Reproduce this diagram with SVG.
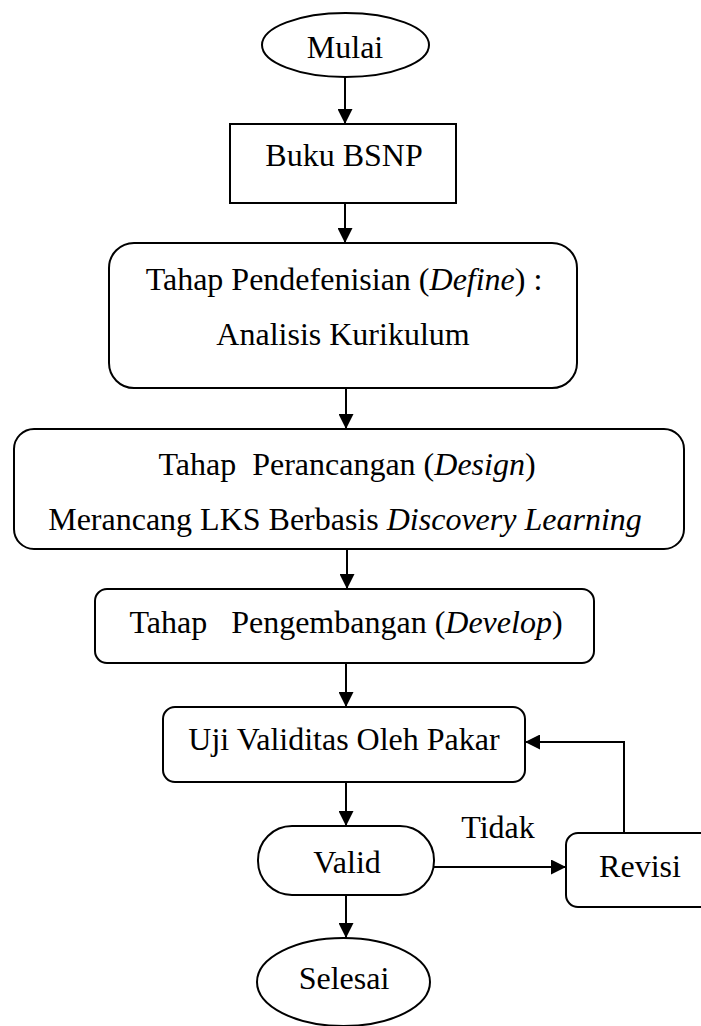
<svg xmlns="http://www.w3.org/2000/svg" width="701" height="1026" viewBox="0 0 701 1026">
<style>
.s{fill:#fff;stroke:#000;stroke-width:2}
.t{font-family:"Liberation Serif","Times New Roman",serif;font-size:32px;fill:#000;text-anchor:middle;white-space:pre}
.i{font-style:italic}
.c{fill:none;stroke:#000;stroke-width:2}
</style>
<defs>
<marker id="ah" viewBox="0 0 15 15" refX="15" refY="7.5" markerWidth="15" markerHeight="15" markerUnits="userSpaceOnUse" orient="auto">
<path d="M0,0 L15,7.5 L0,15 Z" fill="#000"/>
</marker>
</defs>
<rect width="701" height="1026" fill="#fff"/>
<g id="connectors">
<line class="c" x1="345" y1="77" x2="345" y2="124" marker-end="url(#ah)"/>
<line class="c" x1="345" y1="203" x2="345" y2="243" marker-end="url(#ah)"/>
<line class="c" x1="346" y1="388" x2="346" y2="429" marker-end="url(#ah)"/>
<line class="c" x1="347" y1="549" x2="347" y2="589" marker-end="url(#ah)"/>
<line class="c" x1="346" y1="663" x2="346" y2="707" marker-end="url(#ah)"/>
<line class="c" x1="346" y1="782" x2="346" y2="826" marker-end="url(#ah)"/>
<line class="c" x1="346" y1="895" x2="346" y2="938" marker-end="url(#ah)"/>
<line class="c" x1="434" y1="867" x2="566" y2="867" marker-end="url(#ah)"/>
<polyline class="c" points="624,833 624,742 525,742" marker-end="url(#ah)"/>
<text class="t" x="498" y="838">Tidak</text>
</g>
<g id="mulai">
<ellipse class="s" cx="345.5" cy="45" rx="83.5" ry="32"/>
<text class="t" x="345" y="58">Mulai</text>
</g>
<g id="buku">
<rect class="s" x="230" y="124" width="226" height="79"/>
<text class="t" x="344" y="166">Buku BSNP</text>
</g>
<g id="define">
<rect class="s" x="109" y="243" width="468" height="145" rx="25"/>
<text class="t" x="344" y="290">Tahap Pendefenisian (<tspan class="i">Define</tspan>) :</text>
<text class="t" x="343" y="345">Analisis Kurikulum</text>
</g>
<g id="design">
<rect class="s" x="14" y="429" width="670" height="120" rx="20"/>
<text class="t" x="347" y="475">Tahap  Perancangan (<tspan class="i">Design</tspan>)</text>
<text class="t" x="345" y="530">Merancang LKS Berbasis <tspan class="i">Discovery Learning</tspan></text>
</g>
<g id="develop">
<rect class="s" x="95" y="589" width="499" height="74" rx="12"/>
<text class="t" x="346" y="633">Tahap   Pengembangan (<tspan class="i">Develop</tspan>)</text>
</g>
<g id="uji">
<rect class="s" x="163" y="707" width="362" height="75" rx="12"/>
<text class="t" x="344" y="750">Uji Validitas Oleh Pakar</text>
</g>
<g id="valid">
<rect class="s" x="258" y="826" width="176" height="69" rx="34" ry="34"/>
<text class="t" x="347" y="873">Valid</text>
</g>
<g id="revisi">
<rect class="s" x="566" y="833" width="150" height="74" rx="12"/>
<text class="t" x="640" y="877">Revisi</text>
</g>
<g id="selesai">
<ellipse class="s" cx="343.5" cy="982" rx="86.5" ry="44"/>
<text class="t" x="344" y="989">Selesai</text>
</g>
</svg>
